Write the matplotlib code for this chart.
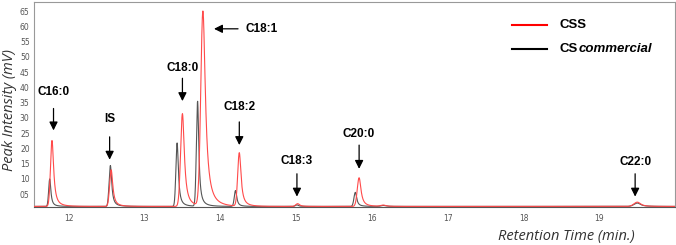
import numpy as np
import matplotlib
matplotlib.use("Agg")
import matplotlib.pyplot as plt

# ---- data ----
# peak retention times (min), heights (mV), widths (min) and tail widths (min)
css_rt     = [11.78, 12.56, 13.50, 13.77, 14.25, 15.02, 15.83, 16.15, 19.50]
css_height = [21.6, 12.0, 30.4, 63.8, 17.5, 0.9, 9.4, 0.4, 1.4]
css_width  = [0.020, 0.020, 0.024, 0.028, 0.021, 0.025, 0.024, 0.035, 0.045]
css_tail   = [0.026, 0.026, 0.030, 0.039, 0.027, 0.030, 0.030, 0.040, 0.050]

com_rt     = [11.75, 12.55, 13.43, 13.70, 14.20, 15.01, 15.78, 16.15, 19.50]
com_height = [9.0, 13.4, 20.8, 34.4, 5.2, 0.5, 4.6, 0.3, 1.1]
com_width  = [0.014, 0.017, 0.016, 0.016, 0.016, 0.020, 0.018, 0.030, 0.045]
com_tail   = [0.018, 0.021, 0.020, 0.019, 0.020, 0.025, 0.022, 0.035, 0.050]

baseline = 1.0

labels     = ["C16:0", "IS", "C18:0", "C18:2", "C18:3", "C20:0", "C22:0"]
label_x    = [11.80, 12.54, 13.50, 14.25, 15.01, 15.83, 19.47]
label_txt_y = [38.4, 29.6, 46.2, 33.5, 15.9, 24.7, 15.6]
arrow_from = [34.0, 24.7, 43.9, 29.6, 12.6, 22.0, 12.6]
arrow_to   = [25.0, 15.4, 34.6, 20.2, 3.3, 12.4, 3.3]

c181_label = "C18:1"
c181_text_x, c181_text_y = 14.54, 59.2
c181_arrow_from, c181_arrow_to = 14.27, 13.88

yticks = [5, 10, 15, 20, 25, 30, 35, 40, 45, 50, 55, 60, 65]
ytick_labels = ["05", "10", "15", "20", "25", "30", "35", "40", "45", "50", "55", "60", "65"]
xticks = [12, 13, 14, 15, 16, 17, 18, 19]


def trace(t, rts, hs, ws, tails):
    y = np.full_like(t, baseline)
    for rt, h, w, g in zip(rts, hs, ws, tails):
        d = t - rt
        left = np.exp(-0.5 * (d / w) ** 2)
        right = np.exp(-0.5 * (d / 0.3) ** 2) / (1 + (d / g) ** 2)
        y += h * np.where(d < 0, left, right)
    return y


t = np.linspace(11.54, 20.0, 6000)
y_css = trace(t, css_rt, css_height, css_width, css_tail)
y_com = trace(t, com_rt, com_height, com_width, com_tail)

fig = plt.figure(figsize=(6.76, 2.45), dpi=100)
ax = fig.add_axes([0.050, 0.155, 0.949, 0.837])

ax.plot(t, y_com, color="#555555", lw=0.8, zorder=2)
ax.plot(t, y_css, color="#ff4a4a", lw=0.8, zorder=3)

ax.set_xlim(11.54, 20.0)
ax.set_ylim(0.8, 68)
ax.set_yticks(yticks)
ax.set_yticklabels(ytick_labels)
ax.set_xticks(xticks)
ax.tick_params(axis="both", length=0, labelsize=5.5, colors="#555555")
ax.tick_params(axis="x", pad=5)
ax.tick_params(axis="y", pad=3)
for s in ax.spines.values():
    s.set_color("#999999")
    s.set_linewidth(0.8)
ax.spines["bottom"].set_color("#555555")

fam = ["Liberation Sans", "DejaVu Sans"]
for lab, lx, ty, af, at in zip(labels, label_x, label_txt_y, arrow_from, arrow_to):
    ax.text(lx, ty, lab, ha="center", va="center", fontsize=8.5,
            fontweight="bold", family=fam)
    ax.annotate("", xy=(lx, at), xytext=(lx, af),
                arrowprops=dict(arrowstyle="-|>,head_length=0.5,head_width=0.25",
                                color="black", lw=0.9))

ax.text(c181_text_x, c181_text_y, c181_label, ha="center", va="center",
        fontsize=8.5, fontweight="bold", family=fam)
ax.annotate("", xy=(c181_arrow_to, c181_text_y), xytext=(c181_arrow_from, c181_text_y),
            arrowprops=dict(arrowstyle="-|>,head_length=0.5,head_width=0.25",
                            color="black", lw=0.9))

# legend (manual, to allow mixed bold / italic)
ax.plot([0.745, 0.800], [0.888, 0.888], transform=ax.transAxes, color="red", lw=1.5)
ax.plot([0.745, 0.800], [0.771, 0.771], transform=ax.transAxes, color="black", lw=1.5)
ax.text(0.820, 0.888, "CSS", transform=ax.transAxes, va="center", ha="left",
        fontsize=9.5, fontweight="bold", family=fam)
tx = ax.text(0.820, 0.771, "CS", transform=ax.transAxes, va="center", ha="left",
             fontsize=9.5, fontweight="bold", family=fam)
fig.canvas.draw()
bb = tx.get_window_extent()
x_end = ax.transAxes.inverted().transform((bb.x1, bb.y0))[0]
ax.text(x_end, 0.771, "commercial", transform=ax.transAxes, va="center", ha="left",
        fontsize=9.5, fontweight="bold", fontstyle="italic", family=fam)

fig.text(0.014, 0.55, "Peak Intensity (mV)", rotation=90, va="center", ha="center",
         fontsize=10.5, fontstyle="italic", family=["Open Sans", "DejaVu Sans"], color="#333333")
fig.text(0.838, 0.035, "Retention Time (min.)", va="center", ha="center",
         fontsize=10.5, fontstyle="italic", family=["Open Sans", "DejaVu Sans"], color="#333333")

fig.savefig("out.png", dpi=100)
